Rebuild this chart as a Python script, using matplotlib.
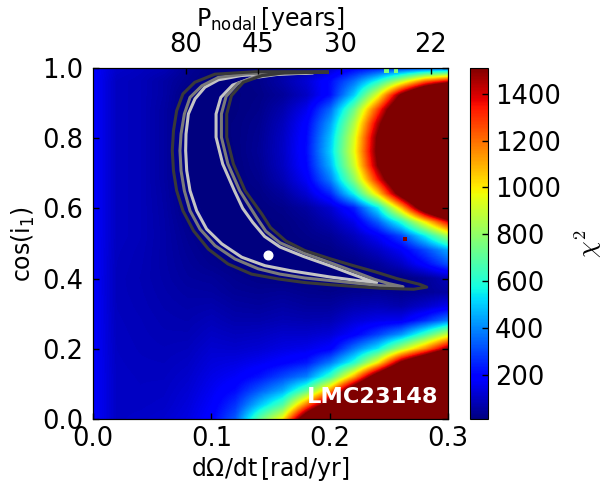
import numpy as np
import matplotlib
matplotlib.use("Agg")
import matplotlib.pyplot as plt

plt.rcParams["font.family"] = "DejaVu Sans"
plt.rcParams["mathtext.fontset"] = "dejavusans"

# grid axes: dOmega/dt columns, cos(i1) rows (top row first)
domega = [0.00, 0.02, 0.04, 0.06, 0.08, 0.10, 0.12, 0.14,
          0.16, 0.18, 0.20, 0.22, 0.24, 0.26, 0.28, 0.30]
cosi = [1.00, 0.96, 0.92, 0.88, 0.84, 0.80, 0.76, 0.72, 0.68, 0.64, 0.60, 0.56, 0.52,
        0.48, 0.44, 0.40, 0.36, 0.32, 0.28, 0.24, 0.20, 0.16, 0.12, 0.08, 0.04, 0.00]

# chi^2 (one row per cos(i1) value above)
chi2 = [
    [180, 110, 95, 85, 40, 20, 15, 15, 25, 45, 100, 170, 200, 210, 220, 230],
    [180, 95, 85, 60, 30, 10, 12, 25, 65, 120, 210, 360, 580, 880, 1200, 1380],
    [180, 95, 85, 60, 12, 8, 12, 20, 45, 100, 215, 500, 950, 1560, 2060, 2560],
    [180, 95, 85, 55, 10, 8, 12, 25, 70, 155, 350, 730, 1270, 1840, 2340, 2840],
    [180, 95, 85, 55, 10, 8, 15, 32, 88, 190, 430, 850, 1440, 1960, 2460, 2960],
    [180, 95, 85, 55, 10, 8, 15, 37, 98, 205, 480, 925, 1540, 2040, 2540, 3000],
    [180, 95, 85, 55, 10, 8, 14, 40, 100, 210, 500, 950, 1560, 2060, 2560, 3000],
    [180, 95, 85, 55, 10, 8, 12, 35, 95, 200, 460, 900, 1512, 2010, 2510, 3000],
    [180, 95, 85, 55, 12, 8, 10, 28, 78, 170, 380, 780, 1340, 1890, 2390, 2890],
    [180, 95, 85, 58, 15, 8, 10, 18, 48, 118, 250, 560, 1030, 1640, 2140, 2640],
    [180, 95, 85, 60, 20, 8, 8, 12, 25, 55, 115, 240, 540, 1080, 1740, 2240],
    [180, 95, 85, 62, 28, 10, 8, 10, 15, 35, 75, 150, 330, 600, 1000, 1400],
    [180, 95, 85, 63, 35, 15, 8, 8, 12, 25, 40, 90, 170, 300, 550, 850],
    [180, 92, 82, 63, 40, 22, 10, 8, 8, 10, 20, 50, 100, 170, 300, 450],
    [180, 90, 80, 63, 45, 30, 18, 10, 8, 8, 10, 15, 45, 100, 200, 320],
    [180, 88, 78, 65, 50, 45, 30, 20, 15, 12, 10, 10, 10, 12, 40, 90],
    [180, 88, 80, 68, 58, 55, 40, 35, 40, 30, 25, 35, 40, 30, 40, 60],
    [180, 90, 82, 72, 65, 70, 55, 50, 60, 50, 50, 75, 85, 70, 110, 160],
    [180, 92, 85, 76, 72, 85, 70, 70, 80, 75, 80, 125, 150, 160, 260, 385],
    [180, 94, 87, 80, 80, 100, 90, 95, 110, 110, 125, 185, 290, 420, 650, 920],
    [180, 96, 89, 85, 90, 115, 110, 120, 140, 150, 185, 370, 540, 850, 1150, 1512],
    [180, 98, 92, 90, 100, 130, 140, 160, 190, 230, 375, 600, 990, 1560, 1950, 2350],
    [180, 100, 95, 95, 110, 145, 170, 220, 300, 385, 640, 1100, 1700, 2200, 2600, 2800],
    [180, 100, 97, 100, 120, 160, 210, 330, 450, 700, 1150, 1760, 2300, 2800, 3000, 3000],
    [180, 100, 100, 105, 130, 175, 270, 480, 680, 1200, 1700, 2600, 2900, 3000, 3000, 3000],
    [180, 100, 105, 115, 140, 190, 330, 700, 1000, 1750, 2400, 3000, 3000, 3000, 3000, 3000],
]

# single odd cells in the map
odd_x = [0.248, 0.256, 0.2637]
odd_y = [0.991, 0.991, 0.512]
odd_chi2 = [760, 760, 1600]

# confidence contours, traced as closed outlines (x, y)
contour_dark = [
    (0.198, 0.987), (0.170, 0.988), (0.137, 0.988), (0.103, 0.981), (0.086, 0.958),
    (0.076, 0.925), (0.0707, 0.877), (0.068, 0.820), (0.067, 0.764), (0.068, 0.707),
    (0.0707, 0.650), (0.076, 0.593), (0.085, 0.536), (0.0975, 0.484), (0.114, 0.442),
    (0.134, 0.413), (0.157, 0.399), (0.179, 0.389), (0.200, 0.383), (0.2425, 0.373),
    (0.271, 0.370), (0.282, 0.376), (0.276, 0.384), (0.257, 0.400), (0.238, 0.420),
    (0.220, 0.437), (0.200, 0.457), (0.179, 0.480), (0.163, 0.507), (0.150, 0.545),
    (0.1426, 0.584), (0.1285, 0.650), (0.1186, 0.726), (0.113, 0.802), (0.113, 0.868),
    (0.117, 0.920), (0.127, 0.958), (0.1426, 0.977), (0.162, 0.985), (0.198, 0.987),
]
contour_mid = [
    (0.190, 0.986), (0.160, 0.986), (0.130, 0.982), (0.106, 0.972), (0.092, 0.948),
    (0.082, 0.915), (0.0772, 0.868), (0.0744, 0.811), (0.0735, 0.764), (0.0744, 0.707),
    (0.0772, 0.650), (0.082, 0.593), (0.0904, 0.541), (0.1031, 0.494), (0.120, 0.456),
    (0.1397, 0.428), (0.158, 0.413), (0.179, 0.402), (0.200, 0.395), (0.238, 0.382),
    (0.255, 0.377), (0.262, 0.377), (0.250, 0.386), (0.238, 0.398), (0.220, 0.421),
    (0.200, 0.446), (0.178, 0.473), (0.158, 0.502), (0.146, 0.535), (0.138, 0.575),
    (0.124, 0.650), (0.114, 0.726), (0.1085, 0.802), (0.1085, 0.868), (0.1125, 0.918),
    (0.1225, 0.955), (0.138, 0.974), (0.158, 0.983), (0.190, 0.986),
]
contour_light = [
    (0.185, 0.985), (0.150, 0.983), (0.125, 0.977), (0.106, 0.965), (0.0946, 0.944),
    (0.0862, 0.911), (0.0806, 0.868), (0.0786, 0.811), (0.0783, 0.764), (0.0792, 0.707),
    (0.082, 0.650), (0.0876, 0.593), (0.096, 0.541), (0.1088, 0.499), (0.1257, 0.461),
    (0.1453, 0.437), (0.168, 0.422), (0.200, 0.405), (0.225, 0.394), (0.2397, 0.389),
    (0.232, 0.397), (0.218, 0.414), (0.200, 0.437), (0.178, 0.463), (0.158, 0.490),
    (0.145, 0.520), (0.135, 0.560), (0.1265, 0.600), (0.1195, 0.650), (0.1096, 0.726),
    (0.104, 0.802), (0.104, 0.868), (0.108, 0.915), (0.118, 0.950), (0.134, 0.970),
    (0.155, 0.980), (0.185, 0.985),
]

best_fit = (0.148, 0.467)
periods = [80, 45, 30, 22]
cbar_ticks = [200, 400, 600, 800, 1000, 1200, 1400]

fig = plt.figure(figsize=(6.03, 4.92), dpi=100)
ax = fig.add_axes([0.1542, 0.1474, 0.5888, 0.7154])
cax = fig.add_axes([0.7794, 0.1474, 0.0299, 0.7154])

dx = domega[1] - domega[0]
dy = cosi[0] - cosi[1]
im = ax.imshow(chi2, origin="upper", cmap="jet", vmin=8, vmax=1512,
               extent=(domega[0] - dx / 2, domega[-1] + dx / 2,
                       cosi[-1] - dy / 2, cosi[0] + dy / 2),
               interpolation="bilinear", interpolation_stage="data", aspect="auto")
ax.scatter(odd_x, odd_y, c=odd_chi2, cmap="jet", vmin=8, vmax=1512,
           marker="s", s=9, linewidths=0)

for pts, col in [(contour_light, "#c4c4c4"), (contour_mid, "#7a7a7a"),
                 (contour_dark, "#393939")]:
    xs, ys = zip(*pts)
    ax.plot(xs, ys, color=col, lw=2.2, solid_joinstyle="round")

ax.plot(*best_fit, "o", color="white", ms=6.2, mec="white")

ax.text(0.973, 0.046, "LMC23148", transform=ax.transAxes, ha="right", va="baseline",
        color="white", fontsize=16.2, fontweight="bold")

ax.set_xlim(0, 0.3)
ax.set_ylim(0, 1)
ax.set_xticks([0.0, 0.1, 0.2, 0.3])
ax.set_yticks([0.0, 0.2, 0.4, 0.6, 0.8, 1.0])
ax.tick_params(direction="in", length=4, width=1, labelsize=18.5, pad=7,
               top=False, right=True)
ax.tick_params(axis="x", pad=5)
ax.set_xlabel(r"$\mathrm{d\Omega/dt\,[rad/yr]}$", fontsize=17, labelpad=2)
ax.set_ylabel(r"$\mathrm{cos(i_1)}$", fontsize=17, labelpad=4)

ax2 = ax.twiny()
ax2.set_xlim(0, 0.3)
ax2.set_xticks([2 * np.pi / p for p in periods])
ax2.set_xticklabels([str(p) for p in periods])
ax2.tick_params(direction="in", length=4, width=1, labelsize=18.5, pad=7)
ax2.set_xlabel(r"$\mathrm{P_{nodal}\,[years]}$", fontsize=17, labelpad=4)

cb = fig.colorbar(im, cax=cax, ticks=cbar_ticks)
cb.ax.tick_params(direction="in", length=4, width=1, labelsize=18.5, pad=5)
cb.set_label(r"$\chi^2$", fontsize=19, math_fontfamily="cm", labelpad=8)

fig.savefig("out.png", dpi=100)
